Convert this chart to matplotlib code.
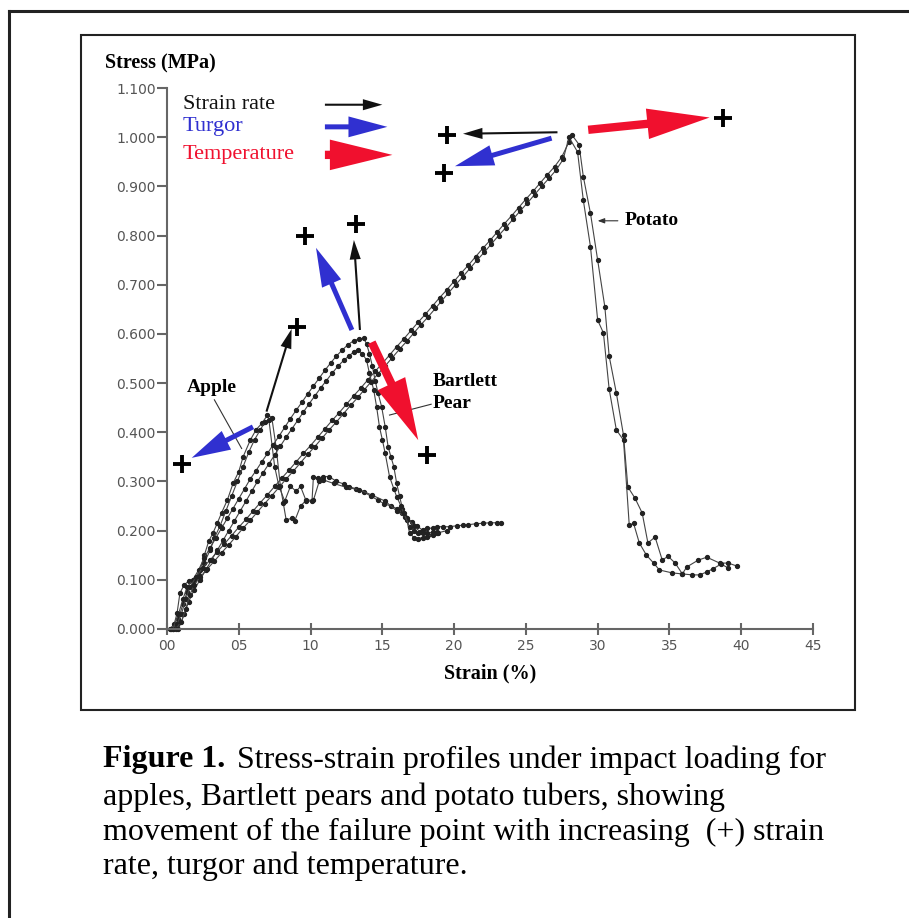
import matplotlib.pyplot as plt
from matplotlib.patches import FancyArrowPatch
from matplotlib.lines import Line2D

# apple, two runs
apple1_x = [0.2, 0.5, 0.7, 0.9, 1.2, 1.5, 1.9, 2.3, 2.6, 2.9, 3.2, 3.5, 3.8, 4.2, 4.6, 5.0, 5.3, 5.8, 6.2, 6.6,
            7.0, 7.3, 7.6, 7.9, 8.1, 8.3, 8.7, 8.9, 9.3, 9.7, 10.2, 10.6, 10.9, 11.3, 11.8, 12.3, 12.7, 13.2, 13.7,
            14.2, 14.7, 15.1, 15.6, 16.0, 16.4, 16.7, 17.1, 17.4, 17.8, 18.1, 18.5, 18.8, 19.2, 19.7, 20.2, 20.6,
            21.0, 21.5, 22.0, 22.5, 23.0, 23.3]
apple1_y = [0.0, 0.01, 0.032, 0.073, 0.09, 0.097, 0.10, 0.12, 0.15, 0.178, 0.195, 0.215, 0.236, 0.262, 0.296,
            0.32, 0.35, 0.384, 0.405, 0.418, 0.435, 0.43, 0.37, 0.29, 0.256, 0.222, 0.225, 0.22, 0.25, 0.262,
            0.262, 0.30, 0.31, 0.31, 0.30, 0.295, 0.289, 0.285, 0.279, 0.27, 0.262, 0.255, 0.25, 0.245, 0.235,
            0.225, 0.218, 0.21, 0.201, 0.205, 0.205, 0.208, 0.208, 0.208, 0.21, 0.211, 0.212, 0.214, 0.215,
            0.216, 0.216, 0.215]
apple2_x = [0.4, 0.8, 1.1, 1.4, 1.8, 2.2, 2.6, 3.0, 3.3, 3.7, 4.1, 4.5, 4.9, 5.3, 5.7, 6.1, 6.5, 6.8, 7.1,
            7.5, 7.8, 8.2, 8.6, 9.0, 9.3, 9.7, 10.1, 10.2, 10.5, 10.9, 11.6, 12.5, 13.4, 14.3, 15.2, 16.0,
            16.6, 17.2, 17.6, 18.2, 18.8, 19.5]
apple2_y = [0.0, 0.02, 0.05, 0.075, 0.09, 0.11, 0.135, 0.16, 0.185, 0.21, 0.24, 0.27, 0.30, 0.33, 0.36,
            0.385, 0.405, 0.42, 0.425, 0.33, 0.29, 0.26, 0.29, 0.28, 0.29, 0.26, 0.26, 0.31, 0.307, 0.303,
            0.296, 0.288, 0.283, 0.272, 0.26, 0.24, 0.228, 0.21, 0.198, 0.192, 0.195, 0.20]

# bartlett pear, two runs
pear1_x = [0.4, 0.8, 1.1, 1.4, 1.8, 2.2, 2.6, 3.0, 3.4, 3.8, 4.2, 4.6, 5.0, 5.4, 5.8, 6.2, 6.6, 7.0, 7.4,
           7.8, 8.2, 8.6, 9.0, 9.4, 9.8, 10.2, 10.6, 11.0, 11.4, 11.8, 12.2, 12.6, 13.0, 13.4, 13.7,
           13.9, 14.1, 14.3, 14.5, 14.7, 14.95, 15.2, 15.4, 15.6, 15.8, 16.0, 16.2, 16.4, 16.7, 16.9, 17.2,
           17.5, 17.8, 18.1, 18.5, 18.9]
pear1_y = [0.0, 0.03, 0.06, 0.085, 0.10, 0.12, 0.145, 0.165, 0.185, 0.205, 0.225, 0.245, 0.265, 0.285,
           0.305, 0.322, 0.34, 0.357, 0.375, 0.392, 0.41, 0.428, 0.445, 0.461, 0.478, 0.494, 0.51, 0.526,
           0.541, 0.555, 0.567, 0.578, 0.586, 0.59, 0.591,
           0.58, 0.56, 0.535, 0.505, 0.48, 0.452, 0.411, 0.371, 0.35, 0.33, 0.296, 0.27, 0.245, 0.222, 0.195,
           0.186, 0.184, 0.186, 0.188, 0.192, 0.195]
pear2_x = [0.8, 1.2, 1.5, 1.9, 2.3, 2.7, 3.1, 3.5, 3.9, 4.3, 4.7, 5.1, 5.5, 5.9, 6.3, 6.7, 7.1, 7.5, 7.9,
           8.3, 8.7, 9.1, 9.5, 9.9, 10.3, 10.7, 11.1, 11.5, 11.9, 12.3, 12.7, 13.0, 13.3,
           13.6, 13.9, 14.1, 14.4, 14.6, 14.8, 15.0, 15.2, 15.5, 15.8, 16.0, 16.3, 16.5, 16.9, 17.2, 17.5,
           17.8, 18.1, 18.5, 18.8]
pear2_y = [0.0, 0.03, 0.055, 0.08, 0.10, 0.12, 0.14, 0.16, 0.18, 0.20, 0.22, 0.24, 0.26, 0.28, 0.30, 0.318,
           0.336, 0.354, 0.372, 0.39, 0.407, 0.424, 0.441, 0.458, 0.474, 0.49, 0.505, 0.52, 0.534, 0.546,
           0.556, 0.563, 0.567,
           0.56, 0.547, 0.52, 0.486, 0.452, 0.411, 0.385, 0.357, 0.31, 0.285, 0.269, 0.25, 0.235, 0.208, 0.20,
           0.195, 0.195, 0.195, 0.197, 0.198]

# potato, two runs
potato1_x = [0.3, 0.7, 1.0, 1.3, 1.6, 2.0, 2.5, 3.0, 3.5, 4.0, 4.5, 5.0, 5.5, 6.0, 6.5, 7.0, 7.5, 8.0, 8.5,
             9.0, 9.5, 10.0, 10.5, 11.0, 11.5, 12.0, 12.5, 13.0, 13.5, 14.0, 14.5, 15.0, 15.5, 16.0, 16.5,
             17.0, 17.5, 18.0, 18.5, 19.0, 19.5, 20.0, 20.5, 21.0, 21.5, 22.0, 22.5, 23.0, 23.5, 24.0, 24.5,
             25.0, 25.5, 26.0, 26.5, 27.0, 27.5, 28.0, 28.2,
             28.7, 29.0, 29.5, 30.0, 30.5, 30.8, 31.3, 31.8, 32.1, 32.6, 33.1, 33.5, 34.0, 34.5, 34.9, 35.4,
             35.9, 36.2, 37.0, 37.6, 38.5, 39.1, 39.7]
potato1_y = [0.0, 0.01, 0.03, 0.06, 0.085, 0.105, 0.125, 0.14, 0.157, 0.173, 0.19, 0.207, 0.223, 0.24, 0.257,
             0.273, 0.29, 0.307, 0.323, 0.34, 0.357, 0.373, 0.39, 0.407, 0.424, 0.44, 0.457, 0.474, 0.49,
             0.507, 0.524, 0.54, 0.557, 0.574, 0.59, 0.607, 0.624, 0.64, 0.657, 0.674, 0.69, 0.707, 0.724,
             0.74, 0.757, 0.774, 0.79, 0.807, 0.824, 0.84, 0.857, 0.874, 0.89, 0.907, 0.924, 0.94, 0.96,
             0.99, 1.005,
             0.985, 0.92, 0.845, 0.75, 0.655, 0.555, 0.48, 0.394, 0.289, 0.266, 0.236, 0.175, 0.187, 0.14,
             0.148, 0.134, 0.112, 0.126, 0.14, 0.146, 0.134, 0.134, 0.128]
potato2_x = [0.6, 1.0, 1.3, 1.6, 1.9, 2.3, 2.8, 3.3, 3.8, 4.3, 4.8, 5.3, 5.8, 6.3, 6.8, 7.3, 7.8, 8.3, 8.8,
             9.3, 9.8, 10.3, 10.8, 11.3, 11.8, 12.3, 12.8, 13.3, 13.7, 14.2, 14.7, 15.2, 15.7, 16.2, 16.7,
             17.2, 17.7, 18.2, 18.7, 19.1, 19.6, 20.1, 20.6, 21.1, 21.6, 22.1, 22.6, 23.1, 23.6, 24.1, 24.6,
             25.1, 25.6, 26.1, 26.6, 27.1, 27.6, 28.0,
             28.6, 29.0, 29.5, 30.0, 30.4, 30.8, 31.3, 31.8, 32.2, 32.5, 32.9, 33.4, 33.9, 34.3, 35.2, 35.9,
             36.6, 37.1, 37.6, 38.0, 38.6, 39.1]
potato2_y = [0.0, 0.015, 0.04, 0.07, 0.09, 0.105, 0.122, 0.138, 0.155, 0.171, 0.188, 0.205, 0.221, 0.238,
             0.255, 0.271, 0.288, 0.305, 0.321, 0.338, 0.355, 0.371, 0.388, 0.405, 0.421, 0.438, 0.455,
             0.471, 0.485, 0.502, 0.519, 0.535, 0.552, 0.569, 0.585, 0.602, 0.619, 0.635, 0.652, 0.666,
             0.683, 0.7, 0.716, 0.733, 0.75, 0.766, 0.783, 0.8, 0.816, 0.833, 0.85, 0.866, 0.883, 0.9,
             0.916, 0.933, 0.955, 1.0,
             0.97, 0.872, 0.777, 0.628, 0.602, 0.488, 0.405, 0.384, 0.211, 0.215, 0.175, 0.15, 0.134, 0.12,
             0.114, 0.112, 0.11, 0.11, 0.116, 0.122, 0.132, 0.124]

curves = [(apple1_x, apple1_y), (apple2_x, apple2_y), (pear1_x, pear1_y), (pear2_x, pear2_y),
          (potato1_x, potato1_y), (potato2_x, potato2_y)]

# failure point shifts: (start, end) for each arrow, + marks
shift_color = {'strain': '#111111', 'turgor': '#3030d0', 'temp': '#f0102e'}
shift_size = {'strain': (1.5, 8, 14), 'turgor': (3.6, 15, 28), 'temp': (6.0, 22, 45)}
shifts = [
    ('strain', (6.93, 0.442), (8.68, 0.61)),
    ('turgor', (5.99, 0.411), (1.72, 0.348)),
    ('strain', (13.44, 0.608), (13.02, 0.791)),
    ('turgor', (12.88, 0.608), (10.38, 0.775)),
    ('temp', (14.26, 0.583), (17.5, 0.384)),
    ('strain', (27.2, 1.01), (20.62, 1.007)),
    ('turgor', (26.79, 0.998), (20.06, 0.941)),
    ('temp', (29.34, 1.015), (37.8, 1.04)),
]
plus_x = [9.03, 1.02, 13.16, 9.61, 18.08, 19.52, 19.3, 38.74]
plus_y = [0.615, 0.336, 0.823, 0.799, 0.354, 1.005, 0.928, 1.038]

legend_labels = ['Strain rate', 'Turgor', 'Temperature']
legend_keys = ['strain', 'turgor', 'temp']
legend_y = [1.066, 1.021, 0.964]

fig = plt.figure(figsize=(9.09, 9.18), dpi=100)
ax = fig.add_axes([167 / 909, 1 - 629 / 918, 646 / 909, 541 / 918])

for cx, cy in curves:
    ax.plot(cx, cy, '-', color='#444444', lw=0.8, marker='o', ms=2.8, mfc='#222222', mec='#222222',
            clip_on=False)

for key, a, b in shifts:
    tw, hw, hl = shift_size[key]
    ax.add_patch(FancyArrowPatch(a, b, arrowstyle=f'simple,tail_width={tw},head_width={hw},head_length={hl}',
                                 color=shift_color[key], shrinkA=0, shrinkB=0, lw=0, zorder=4))
ax.plot(plus_x, plus_y, '+', color='black', ms=13, mew=2.8, zorder=5, clip_on=False)

serif = 'Liberation Serif'
for lab, key, yy in zip(legend_labels, legend_keys, legend_y):
    ax.text(1.1, yy, lab, color=shift_color[key], family=serif, fontsize=16, va='center')
    tw, hw, hl = shift_size[key]
    ax.add_patch(FancyArrowPatch((11.0, yy), (15.0 + 0.35 * legend_keys.index(key), yy),
                                 arrowstyle=f'simple,tail_width={tw},head_width={hw},head_length={hl}',
                                 color=shift_color[key], shrinkA=0, shrinkB=0, lw=0))

# curve labels
ax.text(3.1, 0.492, 'Apple', family=serif, fontweight='bold', fontsize=14, ha='center', va='center')
ax.plot([3.3, 5.2], [0.466, 0.367], color='#333333', lw=0.8)
ax.text(18.5, 0.503, 'Bartlett', family=serif, fontweight='bold', fontsize=14, va='center')
ax.text(18.5, 0.459, 'Pear', family=serif, fontweight='bold', fontsize=14, va='center')
ax.plot([18.4, 15.5], [0.457, 0.435], color='#333333', lw=0.8)
ax.text(31.9, 0.83, 'Potato', family=serif, fontweight='bold', fontsize=14, va='center')
ax.annotate('', xy=(29.8, 0.83), xytext=(31.6, 0.83),
            arrowprops=dict(arrowstyle='-|>,head_length=0.4,head_width=0.15', color='#333333', lw=0.8))

ax.set_xlim(0, 45)
ax.set_ylim(0, 1.1)
ax.set_xticks(range(0, 50, 5))
ax.set_xticklabels(['00', '05', '10', '15', '20', '25', '30', '35', '40', '45'])
ax.set_yticks([i / 10 for i in range(12)])
ax.set_yticklabels([f'{i / 10:.3f}' for i in range(12)])
for s in ['top', 'right']:
    ax.spines[s].set_visible(False)
for s in ['left', 'bottom']:
    ax.spines[s].set_color('#666666')
    ax.spines[s].set_linewidth(1.5)
ax.tick_params(axis='y', direction='out', length=7, width=1.5, color='#666666', labelcolor='#555555',
               labelsize=10, pad=1)
ax.tick_params(axis='x', direction='inout', length=8, width=1.5, color='#666666', labelcolor='#555555',
               labelsize=10, pad=3)

fig.text(105 / 909, 1 - 63 / 918, 'Stress (MPa)', family=serif, fontweight='bold', fontsize=14.5, va='center')
fig.text(490 / 909, 1 - 673 / 918, 'Strain (%)', family=serif, fontweight='bold', fontsize=14.5,
         ha='center', va='center')

# frames
fig.add_artist(Line2D([9 / 909, 9 / 909], [0, 1 - 11 / 918], color='#222222', lw=2.2))
fig.add_artist(Line2D([9 / 909, 1], [1 - 11 / 918, 1 - 11 / 918], color='#222222', lw=2.2))
fig.add_artist(plt.Rectangle((81 / 909, 1 - 710 / 918), 774 / 909, 675 / 918, fill=False,
                             ec='#222222', lw=1.5))

# caption
cap_y = [760, 797, 832, 866]
fig.text(103 / 909, 1 - cap_y[0] / 918, 'Figure 1.', family=serif, fontweight='bold', fontsize=23, va='center')
fig.text(237 / 909, 1 - cap_y[0] / 918, 'Stress-strain profiles under impact loading for', family=serif,
         fontsize=23, va='center')
lines = ['apples, Bartlett pears and potato tubers, showing',
         'movement of the failure point with increasing  (+) strain',
         'rate, turgor and temperature.']
for ln, yy in zip(lines, cap_y[1:]):
    fig.text(103 / 909, 1 - yy / 918, ln, family=serif, fontsize=23, va='center')

fig.savefig('out.png', dpi=100)
